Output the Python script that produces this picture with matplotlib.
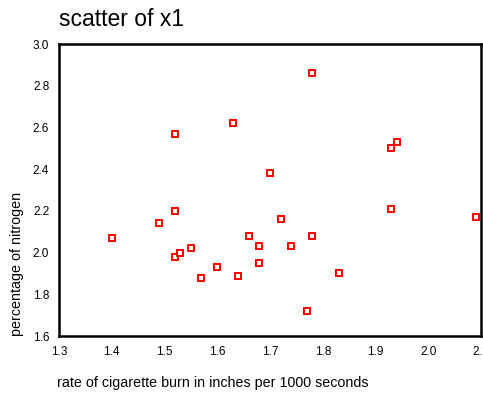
import matplotlib
matplotlib.use("Agg")
import matplotlib.pyplot as plt

plt.rcParams["font.family"] = ["Liberation Sans", "DejaVu Sans"]

# burn rate (inches per 1000 s) vs percentage of nitrogen
burn_rate = [1.40, 1.49, 1.52, 1.52, 1.52, 1.53, 1.55, 1.57, 1.60, 1.63,
             1.64, 1.66, 1.68, 1.68, 1.70, 1.72, 1.74, 1.78, 1.78, 1.77,
             1.83, 1.93, 1.94, 1.93, 2.09]
nitrogen = [2.07, 2.14, 2.20, 2.57, 1.98, 2.00, 2.02, 1.88, 1.93, 2.62,
            1.89, 2.08, 2.03, 1.95, 2.38, 2.16, 2.03, 2.86, 2.08, 1.72,
            1.90, 2.50, 2.53, 2.21, 2.17]
x_ticks = [1.3, 1.4, 1.5, 1.6, 1.7, 1.8, 1.9, 2.0, 2.1]
y_ticks = [1.6, 1.8, 2.0, 2.2, 2.4, 2.6, 2.8, 3.0]

fig = plt.figure(figsize=(4.83, 3.95), dpi=100)
ax = fig.add_axes([59 / 483, 1 - 336 / 395, 422 / 483, 292 / 395])

ax.plot(burn_rate, nitrogen, linestyle="none", marker="s", markersize=4.0,
        markerfacecolor="white", markeredgecolor="red", markeredgewidth=1.4)

ax.set_xlim(1.3, 2.1)
ax.set_ylim(1.6, 3.0)
ax.set_xticks(x_ticks)
ax.set_yticks(y_ticks)
ax.set_xticklabels([f"{v:.1f}" for v in x_ticks])
ax.set_yticklabels([f"{v:.1f}" for v in y_ticks])
ax.tick_params(length=0, labelsize=8.5, pad=7)
for s in ax.spines.values():
    s.set_linewidth(1.8)

fig.text(59 / 483, 1 - 20 / 395, "scatter of x1", fontsize=16.5,
         ha="left", va="center")
fig.text(57 / 483, 1 - 383 / 395,
         "rate of cigarette burn in inches per 1000 seconds",
         fontsize=10.3, ha="left", va="center")
fig.text(17 / 483, 1 - 336 / 395, "percentage of nitrogen", fontsize=10.3,
         rotation=90, ha="center", va="bottom")

fig.savefig("out.png", dpi=100)
